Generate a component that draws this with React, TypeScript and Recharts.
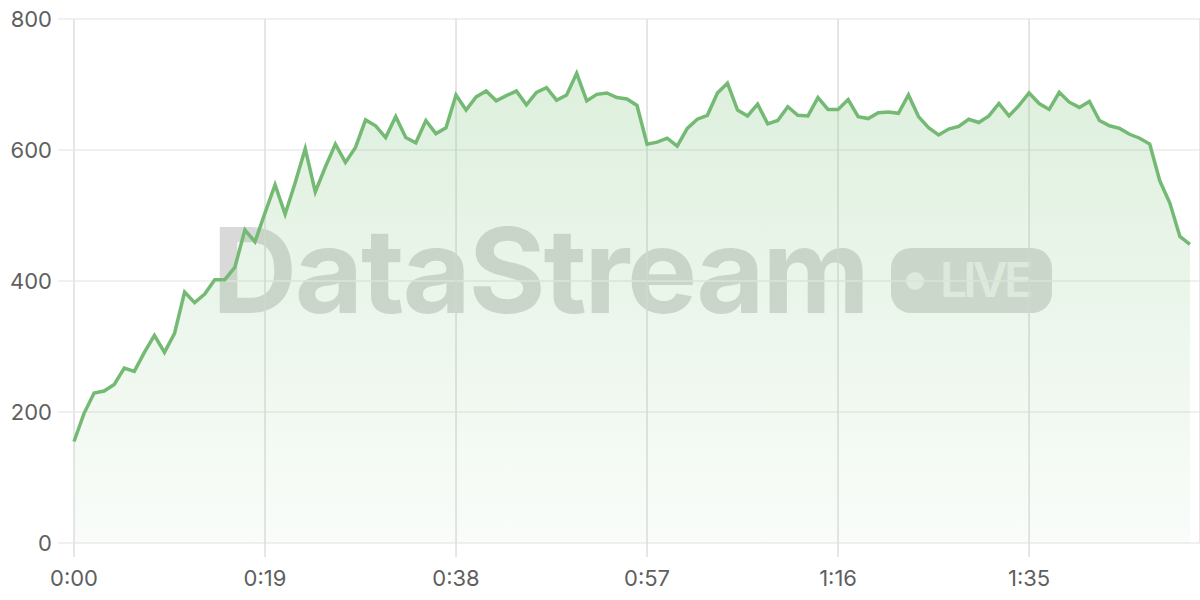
import React from "react";
import { AreaChart, Area, XAxis, YAxis, CartesianGrid } from "recharts";

// one sample per second
const values = [
  155, 198, 229, 232, 242, 267, 262, 291, 317, 291,
  320, 383, 367, 380, 402, 402, 421, 478, 460, 504,
  547, 502, 550, 602, 536, 574, 609, 581, 604, 646,
  637, 619, 651, 619, 611, 645, 625, 634, 684, 661,
  681, 690, 675, 683, 690, 669, 688, 695, 676, 684,
  717, 675, 685, 687, 680, 678, 668, 609, 612, 618,
  606, 633, 647, 653, 687, 702, 661, 652, 670, 640,
  645, 666, 653, 652, 680, 662, 662, 677, 651, 648,
  657, 658, 656, 684, 651, 634, 623, 632, 636, 647,
  642, 652, 671, 652, 668, 687, 671, 662, 688, 673,
  665, 674, 645, 637, 633, 624, 618, 609, 553, 519,
  468, 456,
];
const seconds = values.map((_, i) => i);
const xTicks = [0, 19, 38, 57, 76, 95];
const yTicks = [0, 200, 400, 600, 800];

const data = seconds.map((t, i) => ({ t, v: values[i] }));

const fmtTime = (s: number) => `${Math.floor(s / 60)}:${String(s % 60).padStart(2, "0")}`;

const tickStyle = { fill: "#5f5f5f", fontSize: 22, fontFamily: "Inter, 'Noto Sans', sans-serif" };

export default function App() {
  return (
    <div style={{ position: "absolute", left: 0, top: 0, width: 1200, height: 600, background: "#fff" }}>
      <svg width={1200} height={600} style={{ position: "absolute", left: 0, top: 0 }}>
        <text
          x={212}
          y={313}
          fontSize={118}
          fontWeight={700}
          fontFamily="Inter, 'Noto Sans', sans-serif"
          textLength={658}
          fill="rgba(0,0,0,0.15)"
        >
          DataStream
        </text>
        <rect x={891} y={248} width={161} height={65} rx={20} fill="rgba(0,0,0,0.14)" />
        <circle cx={915} cy={281} r={9} fill="rgba(255,255,255,0.6)" />
        <text
          x={940}
          y={297}
          fontSize={48}
          fontWeight={600}
          fontFamily="Inter, 'Noto Sans', sans-serif"
          textLength={93}
          fill="rgba(255,255,255,0.6)"
        >
          LIVE
        </text>
      </svg>
      <div style={{ position: "absolute", left: 0, top: 0 }}>
        <AreaChart width={1200} height={600} data={data} margin={{ top: 19, right: 0, bottom: 0, left: 0 }}>
          <defs>
            <linearGradient id="fillGreen" x1="0" y1="0" x2="0" y2="1">
              <stop offset="0%" stopColor="#74bf74" stopOpacity={0.4} />
              <stop offset="100%" stopColor="#74bf74" stopOpacity={0.07} />
            </linearGradient>
          </defs>
          <CartesianGrid horizontal={true} vertical={false} stroke="#ebebeb" strokeWidth={1.5} />
          <CartesianGrid horizontal={false} vertical={true} stroke="#dedede" strokeWidth={1.5} />
          <XAxis
            dataKey="t"
            type="number"
            domain={[0, 112]}
            ticks={xTicks}
            tickFormatter={fmtTime}
            axisLine={false}
            tickLine={{ stroke: "#dedede", strokeWidth: 1.5 }}
            tickSize={14}
            tickMargin={13}
            height={57}
            tick={tickStyle}
            interval={0}
          />
          <YAxis
            domain={[0, 800]}
            ticks={yTicks}
            axisLine={false}
            tickLine={{ stroke: "#ebebeb", strokeWidth: 1.5 }}
            tickSize={16}
            tickMargin={6}
            width={74}
            tick={tickStyle}
            interval={0}
          />
          <Area
            type="linear"
            dataKey="v"
            stroke="#74ba74"
            strokeWidth={3.5}
            fill="url(#fillGreen)"
            dot={false}
            activeDot={false}
            isAnimationActive={false}
          />
        </AreaChart>
      </div>
    </div>
  );
}
